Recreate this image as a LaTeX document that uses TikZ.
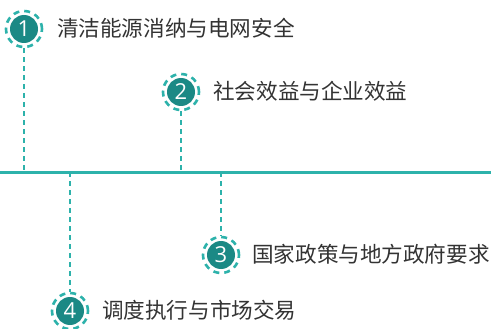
\documentclass[tikz,border=0pt]{standalone}
\usepackage{fontspec}
\setmainfont{Noto Sans CJK SC}
\newfontfamily\numfont{Open Sans}
\definecolor{tealdark}{HTML}{1B8985}
\definecolor{teallight}{HTML}{2DB2AB}
\definecolor{txtgray}{HTML}{333333}
\begin{document}
\begin{tikzpicture}[x=1pt,y=-1pt,
  badge/.style={circle, minimum size=36pt, inner sep=0pt, draw=teallight, line width=2.6pt,
    dash pattern=on 6pt off 5pt,
    path picture={\fill[tealdark] (path picture bounding box.center) circle (14pt);},
    text=white, font=\numfont\fontsize{22}{22}\selectfont},
  label/.style={anchor=west, inner sep=0pt, text=txtgray, font=\fontsize{21.6}{23}\selectfont},
  conn/.style={draw=teallight, line width=2.6pt, dash pattern=on 5pt off 4pt},
  axis/.style={draw=teallight, line width=2.2pt}]
\useasboundingbox (0,0) rectangle (491,329);
\coordinate (L) at (0,172.5);
\coordinate (R) at (491,172.5);
\coordinate (a1) at (24,172.5);
\coordinate (a2) at (181,172.5);
\coordinate (a3) at (221,172.5);
\coordinate (a4) at (70,172.5);
\node[badge] (c1) at (24,29) {1};
\node[badge] (c2) at (181,92) {2};
\node[badge] (c3) at (221,255) {3};
\node[badge] (c4) at (70,311) {4};
\node[label] (t1) at (57,28) {清洁能源消纳与电网安全};
\node[label] (t2) at (213,91) {社会效益与企业效益};
\node[label] (t3) at (252,254) {国家政策与地方政府要求};
\node[label] (t4) at (102,310) {调度执行与市场交易};
\draw[conn] (c1.south) -- (a1);
\draw[conn] (c2.south) -- (a2);
\draw[conn] (a3) -- (c3.north);
\draw[conn] (a4) -- (c4.north);
\draw[axis] (L) -- (R);
\end{tikzpicture}
\end{document}
